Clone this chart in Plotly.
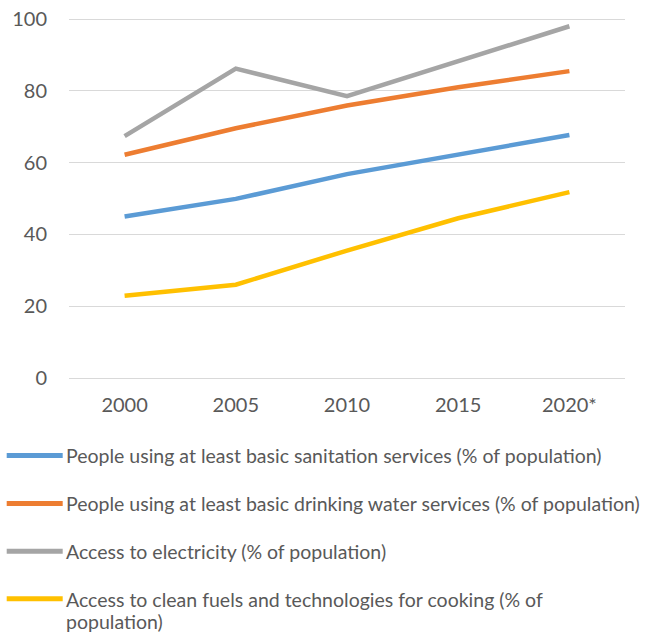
import plotly.graph_objects as go

years = ["2000", "2005", "2010", "2015", "2020*"]
sanitation = [45.0, 49.9, 56.8, 62.3, 67.7]
water = [62.2, 69.6, 75.9, 81.0, 85.5]
electricity = [67.4, 86.2, 78.5, 88.2, 98.0]
cooking = [22.9, 26.0, 35.5, 44.5, 51.8]

names = [
    "People using at least basic sanitation services (% of population)",
    "People using at least basic drinking water services (% of population)",
    "Access to electricity (% of population)",
    "Access to clean fuels and technologies for cooking (% of population)",
]
# how the legend text wraps (last entry wraps onto two lines)
legend_lines = [
    [names[0]],
    [names[1]],
    [names[2]],
    ["Access to clean fuels and technologies for cooking (% of", "population)"],
]
colors = ["#5b9bd5", "#ed7d31", "#a5a5a5", "#ffc000"]
series = [sanitation, water, electricity, cooking]

FONT = "Lato, Open Sans, sans-serif"
TXT = "#595959"

W, H = 653, 636
L, R, T, B = 69, 28, 18.4, 257.5
PW, PH = W - L - R, H - T - B


def px_x(px):  # page pixel -> paper x
    return (px - L) / PW


def px_y(py):  # page pixel -> paper y
    return (H - B - py) / PH


fig = go.Figure()
for name, vals, col in zip(names, series, colors):
    fig.add_trace(go.Scatter(
        x=years, y=vals, name=name, mode="lines",
        line=dict(color=col, width=4.5),
        showlegend=False,
    ))

# legend drawn Excel-style below the plot
row_y = [456.0, 504.0, 551.7, 599.3]
line_gap = 22.0
for lines, col, ry in zip(legend_lines, colors, row_y):
    fig.add_shape(
        type="line", xref="paper", yref="paper",
        x0=px_x(6.7), x1=px_x(62.7), y0=px_y(ry), y1=px_y(ry),
        line=dict(color=col, width=5),
    )
    for k, txt in enumerate(lines):
        fig.add_annotation(
            xref="paper", yref="paper", x=px_x(64.3), y=px_y(ry + 0.5 + k * line_gap),
            xanchor="left", yanchor="middle", align="left",
            text=txt, showarrow=False,
            font=dict(family=FONT, size=19.5, color=TXT),
        )

fig.update_layout(
    width=W, height=H,
    margin=dict(l=L, r=R, t=T, b=B, autoexpand=False),
    paper_bgcolor="white", plot_bgcolor="white",
    font=dict(family=FONT, color=TXT, size=20),
    showlegend=False,
    xaxis=dict(
        type="category", range=[-0.5, 4.5], showgrid=False, zeroline=False,
        showline=False, ticks="", ticklabelstandoff=13,
        tickfont=dict(size=20), automargin=False,
    ),
    yaxis=dict(
        range=[0, 100.3], dtick=20, tick0=0, showgrid=True, gridcolor="#d9d9d9", gridwidth=1.3,
        zeroline=True, zerolinecolor="#d9d9d9", zerolinewidth=1.3,
        showline=False, ticks="", ticklabelstandoff=21,
        ticklabeloverflow="allow",
        tickfont=dict(size=20), automargin=False,
    ),
)

# remove the browser's default 8px body margin so the figure fills the window
fig.write_html(
    "out.html",
    config={"displayModeBar": False},
    post_script="document.body.style.margin='0px';",
)
